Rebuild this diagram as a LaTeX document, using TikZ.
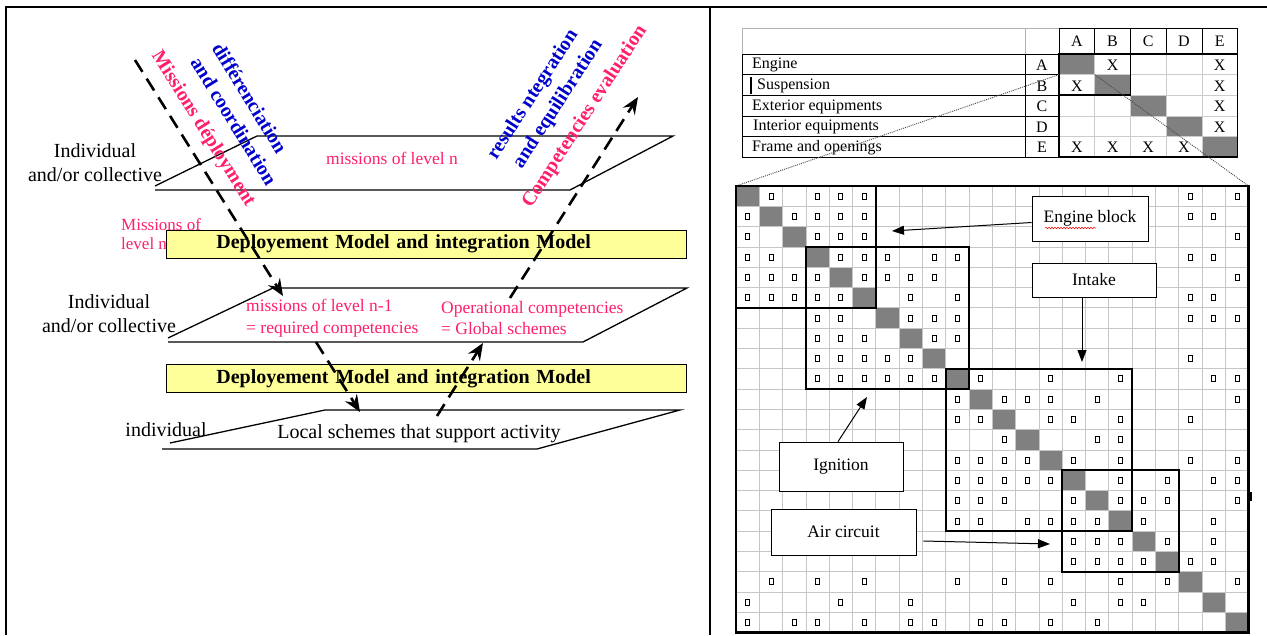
\documentclass[tikz,border=0pt]{standalone}
\usepackage{fontspec}
\setmainfont{Liberation Serif}
\usetikzlibrary{arrows.meta,decorations.pathmorphing}

\definecolor{misspink}{HTML}{FF1F6B}
\definecolor{coordblue}{HTML}{0000CC}
\definecolor{modelyellow}{HTML}{FFFF99}
\definecolor{cellgray}{HTML}{808080}

\newcommand{\cellw}{23.3}
\newcommand{\cellh}{20.3}
\newcommand{\matx}{736}
\newcommand{\maty}{186}
\newcommand{\tabw}{35.7}
\newcommand{\tabh}{20.6}

\begin{document}
\begin{tikzpicture}[x=1pt, y=-1pt,
        frame/.style={line width=2pt},
        plane/.style={line width=1.3pt},
        modelbox/.style={draw, line width=0.8pt, fill=modelyellow, anchor=west, inner xsep=50pt, inner ysep=0pt,
                text width=420pt, align=left, minimum height=28pt, font=\fontsize{20}{22}\selectfont\bfseries},
        flow/.style={line width=2.6pt, dash pattern=on 14pt off 8pt, -{Stealth[length=17pt, width=14pt, inset=6pt]}},
        pinktext/.style={text=misspink, font=\fontsize{17.5}{21.5}\selectfont, align=left, inner sep=0pt},
        blacktext/.style={font=\fontsize{20}{24}\selectfont, align=center, inner sep=0pt},
        slanttext/.style={font=\fontsize{20}{22}\selectfont\bfseries, inner sep=0pt},
        tabletext/.style={font=\fontsize{16}{18}\selectfont, inner sep=0pt},
        tablegrid/.style={gray!40, line width=0.6pt},
        gridline/.style={gray!45, line width=0.8pt},
        block/.style={line width=1.6pt},
        dep/.style={line width=0.9pt},
        labelbox/.style={draw, fill=white, line width=0.8pt, inner sep=0pt, font=\fontsize{17.5}{20}\selectfont},
        pointer/.style={line width=1pt, -{Triangle[length=12pt, width=9pt]}},
        zoomline/.style={gray!60!black, line width=0.9pt, dash pattern=on 1pt off 1pt}
    ]
        \useasboundingbox (0,0) rectangle (1267,635);
        \draw[frame] (6,635) -- (6,7) -- (1267,7);
        \draw[frame] (710,7) -- (710,635);

        % left panel
        \node[pinktext, anchor=west, font=\fontsize{17}{19}\selectfont] (misslevel) at (121,234) {Missions of\\level n};

        \draw[plane] (155,190) -- (570,190) -- (673,136) -- (257,136) -- (155,186);
        \draw[plane] (168,342) -- (583,342) -- (687,288) -- (273,288) -- (168,338);
        \draw[plane] (162,449) -- (537,449) -- (680,410) -- (325,410) -- (170,443);

        \node[modelbox] (model1) at (166,244) {Deployement Model and integration Model};
        \node[modelbox] (model2) at (166,378.5) {Deployement Model and integration Model};

        \node[blacktext] (indiv1) at (95,163) {Individual\\and/or collective};
        \node[blacktext] (indiv2) at (109,314) {Individual\\and/or collective};
        \node[blacktext] (indiv3) at (166,430) {individual};
        \node[blacktext] (localsch) at (419,434) {Local schemes that support activity};

        \node[pinktext] (levn) at (392,158) {missions of level n};
        \node[pinktext, anchor=west] (levnone) at (246,318) {missions of level n-1\\= required competencies};
        \node[pinktext, anchor=west] (opcomp) at (441,318) {Operational competencies\\= Global schemes};

        \node[slanttext, text=misspink, rotate=-58] (missdep) at (203,129) {Missions déployment};
        \node[slanttext, text=coordblue, rotate=-58.5] (diffr) at (250,98) {différenciation};
        \node[slanttext, text=coordblue, rotate=-58.5] (andcoord) at (234,121) {and coordination};
        \node[slanttext, text=coordblue, rotate=57] (resint) at (533.3,95) {results ntegration};
        \node[slanttext, text=coordblue, rotate=57] (andequ) at (558.3,104.2) {and equilibration};
        \node[slanttext, text=misspink, rotate=57] (compev) at (585,116.7) {Competencies evaluation};

        \coordinate (downA) at (135,60);
        \coordinate (downB) at (283,296);
        \coordinate (downC) at (316,342);
        \coordinate (downD) at (360,412);
        \coordinate (upA) at (437,416);
        \coordinate (upB) at (483,343);
        \coordinate (upC) at (510,298);
        \coordinate (upD) at (638,97);
        \draw[flow] (downA) -- (downB);
        \draw[flow] (downC) -- (downD);
        \draw[flow] (upA) -- (upB);
        \draw[flow] (upC) -- (upD);

        % right panel: table
        \draw[gray!60, line width=0.6pt] (742,28) rectangle (1025,54);
        \draw[gray!60, line width=0.6pt] (1025,28) rectangle (1059,54);
        \foreach \c/\lab in {0/A,1/B,2/C,3/D,4/E} {
            \draw[line width=0.6pt] ({1059+\c*\tabw},28) rectangle ({1059+(\c+1)*\tabw},54);
            \node[tabletext] (head\lab) at ({1059+(\c+0.5)*\tabw},41) {\lab};
        }
        \foreach \r/\name/\lab/\tx in {0/Engine/A/752, 1/Suspension/B/757, 2/Exterior equipments/C/752,
                3/Interior equipments/D/753, 4/Frame and openings/E/752} {
            \draw[line width=0.6pt] (742,{54+\r*\tabh}) rectangle (1025,{54+(\r+1)*\tabh});
            \draw[line width=0.6pt] (1025,{54+\r*\tabh}) rectangle (1059,{54+(\r+1)*\tabh});
            \node[tabletext, anchor=west] (row\lab) at (\tx,{55+(\r+0.5)*\tabh}) {\name};
            \node[tabletext] (let\lab) at (1042,{55+(\r+0.5)*\tabh}) {\lab};
        }
        \draw[line width=1.5pt] (751,77) -- (751,94);
        \foreach \k in {0,...,4}
            \fill[cellgray] ({1059+\k*\tabw},{54+\k*\tabh}) rectangle +(\tabw,\tabh);
        \foreach \k in {1,...,4} {
            \draw[tablegrid] ({1059+\k*\tabw},54) -- ({1059+\k*\tabw},157);
            \draw[tablegrid] (1059,{54+\k*\tabh}) -- (1237.5,{54+\k*\tabh});
        }
        \foreach \r/\c in {0/1,0/4,1/0,1/4,2/4,3/4,4/0,4/1,4/2,4/3}
            \node[tabletext] (x\r\c) at ({1059+(\c+0.5)*\tabw},{55+(\r+0.5)*\tabh}) {X};
        \draw[line width=1.6pt] (1059,54) rectangle (1237.5,157);
        \draw[line width=1.6pt] (1059,54) rectangle ({1059+2*\tabw},{54+2*\tabh});

        \coordinate (cellbl) at (1059,{54+\tabh});
        \coordinate (cellbr) at ({1059+\tabw},{54+\tabh});
        \coordinate (matnw) at (\matx,\maty);
        \coordinate (matne) at ({\matx+22*\cellw},\maty);
        \draw[zoomline] (cellbl) -- (matnw);
        \draw[zoomline] (cellbr) -- (matne);

        % right panel: matrix
        \foreach \k in {1,...,22}
            \fill[cellgray] ({\matx+(\k-1)*\cellw},{\maty+(\k-1)*\cellh}) rectangle +(\cellw,\cellh);
        \foreach \k in {1,...,21} {
            \draw[gridline] ({\matx+\k*\cellw},\maty) -- +(0,{22*\cellh});
            \draw[gridline] (\matx,{\maty+\k*\cellh}) -- +({22*\cellw},0);
        }
        \foreach \r/\cols in {1/{2,4,5,6,20,22}, 2/{1,3,4,5,6,20,21}, 3/{1,4,5,6,22},
                4/{1,2,5,6,7,9,10,20,21}, 5/{1,2,3,4,6,7,8,9,22}, 6/{1,2,3,4,5,8,10,20,21},
                7/{4,5,8,9,10,20,21,22}, 8/{4,5,6,9,10}, 9/{4,5,6,7,8,20},
                10/{4,5,6,7,8,9,11,14,17,21,22}, 11/{10,12,13,14,16,22}, 12/{10,11,14,15,17,20},
                13/{12,16,17}, 14/{10,11,12,13,15,17,20,22}, 15/{10,11,12,13,14,17,19,21,22},
                16/{10,11,12,15,17,18,19,22}, 17/{10,11,13,14,15,16,18,21}, 18/{15,16,17,19,21},
                19/{15,16,17,18,20,21}, 20/{2,4,6,10,12,14,17,19,22}, 21/{1,5,8,15,17,18},
                22/{1,3,4,6,8,9,11,12,14,16}}
            \foreach \c in \cols
                \draw[dep] ({\matx+(\c-0.5)*\cellw-2},{\maty+(\r-0.5)*\cellh-3}) rectangle +(4,6);
        \foreach \a/\b in {1/6,4/10,10/17,15/19}
            \draw[block] ({\matx+(\a-1)*\cellw},{\maty+(\a-1)*\cellh}) rectangle ({\matx+\b*\cellw},{\maty+\b*\cellh});
        \draw[line width=2.4pt] (matnw) rectangle ({\matx+22*\cellw},{\maty+22*\cellh});
        \fill (1248.5,492) rectangle (1251.5,501);

        \node[labelbox, minimum width=116pt, minimum height=45pt] (engblock) at (1090,218.5) {Engine block};
        \draw[red, line width=0.5pt, decorate, decoration={snake, amplitude=0.7pt, segment length=3pt}] (1045,228) -- (1096,228);
        \node[labelbox, minimum width=124pt, minimum height=34pt] (intake) at (1094,280) {Intake};
        \node[labelbox, minimum width=124pt, minimum height=49pt] (ignition) at (841,466.5) {Ignition};
        \node[labelbox, minimum width=145pt, minimum height=46pt] (aircirc) at (843.5,532) {Air circuit};

        \coordinate (engtip) at (892,231);
        \coordinate (intaketip) at (1082,362);
        \coordinate (ignitip) at (867,397);
        \coordinate (airtip) at (1050,544);
        \draw[pointer] ([yshift=-4pt]engblock.west) -- (engtip);
        \draw[pointer] (intake.south -| intaketip) -- (intaketip);
        \draw[pointer] ([xshift=-3pt]ignition.north) -- (ignitip);
        \draw[pointer] ([xshift=7pt, yshift=-9pt]aircirc.east) -- (airtip);
    \end{tikzpicture}
\end{document}
